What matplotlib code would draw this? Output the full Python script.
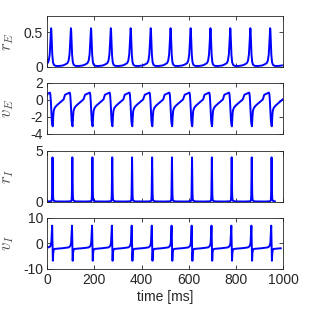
import numpy as np
import matplotlib
matplotlib.use('Agg')
import matplotlib.pyplot as plt

# spike (r_E peak) times, in ms
peak_times = [17, 101, 186, 270, 354, 439, 523, 608, 692, 776, 861, 945]

# one cycle of each trace, as offsets (ms) from the r_E peak and values
rE_offsets = [-25, -15, -10, -6, -3, -1, 0, 1, 3, 5, 8, 12, 20, 35, 50, 59]
rE_values = [0.035, 0.055, 0.09, 0.18, 0.36, 0.51, 0.56, 0.53, 0.35, 0.18, 0.07, 0.03, 0.015, 0.015, 0.022, 0.034]

vE_offsets = [-25, -15, -8, -5, -3, -1, 1, 3, 5, 7, 9, 11, 15, 22, 32, 45, 53]
vE_values = [0.6, 0.72, 0.8, 0.85, 0.6, -0.2, -1.4, -2.4, -2.9, -3.1, -2.0, -1.3, -0.95, -0.7, -0.45, -0.15, 0.05]

rI_offsets = [-25, 0, 3, 4, 5, 6, 7, 8, 9, 11, 20, 59]
rI_values = [0.04, 0.06, 0.2, 0.7, 2.5, 4.35, 2.5, 0.8, 0.3, 0.12, 0.05, 0.04]

vI_offsets = [-25, -10, -4, -1, 1, 2, 3, 4.5, 5.5, 6.5, 7.5, 9, 11, 15, 30, 45]
vI_values = [-1.8, -1.6, -1.2, -0.6, 0.3, 1.8, 4.0, 6.9, 3.0, -2.0, -6.8, -3.8, -2.6, -2.2, -2.05, -1.95]

# values at t = 0 (initial condition)
start_values = {'rE': 0.1, 'vE': 0.5, 'rI': 0.05, 'vI': -1.3}

t_end = 1000


def build_trace(offsets, values, start):
    t = [0.0]
    y = [start]
    for tp in peak_times:
        for off, val in zip(offsets, values):
            tt = tp + off
            if 0 < tt <= t_end:
                t.append(tt)
                y.append(val)
    order = np.argsort(t, kind='stable')
    return np.array(t)[order], np.array(y)[order]


def main():
    plt.rcParams['font.family'] = ['Liberation Sans', 'DejaVu Sans']
    plt.rcParams['mathtext.fontset'] = 'cm'

    fig = plt.figure(figsize=(3.16, 3.16), dpi=100)
    edge = '#262626'

    panels = [
        (rE_offsets, rE_values, start_values['rE'], r'$r_E$', (0, 0.74), [0, 0.5], ['0', '0.5']),
        (vE_offsets, vE_values, start_values['vE'], r'$v_E$', (-4, 2), [-4, -2, 0, 2], ['-4', '-2', '0', '2']),
        (rI_offsets, rI_values, start_values['rI'], r'$r_I$', (0, 5), [0, 5], ['0', '5']),
        (vI_offsets, vI_values, start_values['vI'], r'$v_I$', (-10, 10), [-10, 0, 10], ['-10', '0', '10']),
    ]
    bottoms = [0.788, 0.576, 0.361, 0.149]

    for i, (offs, vals, y0, lab, ylim, yt, ytl) in enumerate(panels):
        ax = fig.add_axes([0.149, bottoms[i], 0.747, 0.162])
        t, y = build_trace(offs, vals, y0)
        ax.plot(t, y, color='#0000ff', lw=1.4)
        ax.set_xlim(0, t_end)
        ax.set_ylim(*ylim)
        ax.set_yticks(yt)
        ax.set_yticklabels(ytl)
        ax.set_xticks(np.arange(0, 1001, 200))
        if i < 3:
            ax.set_xticklabels([])
        else:
            ax.set_xlabel('time [ms]', fontsize=10, color=edge, labelpad=2)
        ax.tick_params(direction='in', length=3, width=0.6, top=True, right=True,
                       labelsize=10, colors=edge, pad=3)
        for s in ax.spines.values():
            s.set_color(edge)
            s.set_linewidth(0.6)
        ax.set_ylabel(lab, fontsize=12, color='#505050')
        ax.yaxis.set_label_coords(-0.13, 0.5)

    fig.savefig('out.png', dpi=100)


if __name__ == '__main__':
    main()
